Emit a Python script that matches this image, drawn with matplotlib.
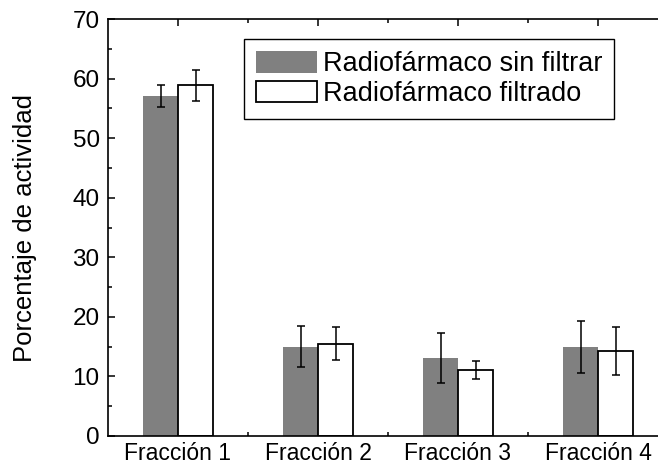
import matplotlib
matplotlib.use("Agg")
import matplotlib.pyplot as plt
import numpy as np
from matplotlib.ticker import MultipleLocator, FixedLocator

plt.rcParams['font.family'] = ['Liberation Sans', 'DejaVu Sans']

categories = ["Fracción 1", "Fracción 2", "Fracción 3", "Fracción 4"]
sin_filtrar = [57.1, 15.0, 13.1, 14.9]
sin_filtrar_err = [1.8, 3.5, 4.2, 4.4]
filtrado = [58.9, 15.5, 11.1, 14.3]
filtrado_err = [2.6, 2.8, 1.45, 4.0]
series_labels = ["Radiofármaco sin filtrar", "Radiofármaco filtrado"]

fig = plt.figure(figsize=(6.58, 4.66), dpi=100)
ax = fig.add_axes([108/658, 1-436/466, (668-108)/658, (436-19)/466])

x = np.arange(1, len(categories)+1)
w = 0.25
ax.bar(x - w/2, sin_filtrar, w, color='#808080', edgecolor='#808080', linewidth=0,
       label=series_labels[0], zorder=2)
ax.bar(x + w/2, filtrado, w, color='white', edgecolor='black', linewidth=1.3,
       label=series_labels[1], zorder=2)
ax.errorbar(x - w/2, sin_filtrar, yerr=sin_filtrar_err, fmt='none', ecolor='black',
            elinewidth=1.1, capsize=3, capthick=1.1, zorder=3)
ax.errorbar(x + w/2, filtrado, yerr=filtrado_err, fmt='none', ecolor='black',
            elinewidth=1.1, capsize=3, capthick=1.1, zorder=3)

ax.set_xlim(0.5, 4.5)
ax.set_ylim(0, 70)
ax.set_xticks(x)
ax.set_xticklabels(categories, fontsize=16.5)
ax.xaxis.set_minor_locator(FixedLocator([1.5, 2.5, 3.5]))
ax.yaxis.set_major_locator(MultipleLocator(10))
ax.yaxis.set_minor_locator(MultipleLocator(5))
ax.tick_params(axis='y', which='major', direction='in', length=5, width=1.1, labelsize=17.5, pad=6)
ax.tick_params(axis='y', which='minor', direction='in', length=3, width=1.1)
ax.tick_params(axis='x', which='major', direction='in', length=5, width=1.1, top=True, pad=4)
ax.tick_params(axis='x', which='minor', direction='in', length=3, width=1.1, top=True)
for s in ax.spines.values():
    s.set_linewidth(1.2)

ax.set_ylabel("Porcentaje de actividad", fontsize=18.5)
ax.yaxis.set_label_coords(-(108-37)/560, 0.5)

leg = fig.legend(loc='upper left', bbox_to_anchor=(244/658, 1-39/466), fontsize=19.5,
                 frameon=True, fancybox=False, edgecolor='black', framealpha=1,
                 handlelength=2.25, handleheight=0.85, handletextpad=0.2,
                 borderpad=0.45, labelspacing=0.12, borderaxespad=0)
leg.get_frame().set_linewidth(1.0)

fig.savefig("out.png", dpi=100)
